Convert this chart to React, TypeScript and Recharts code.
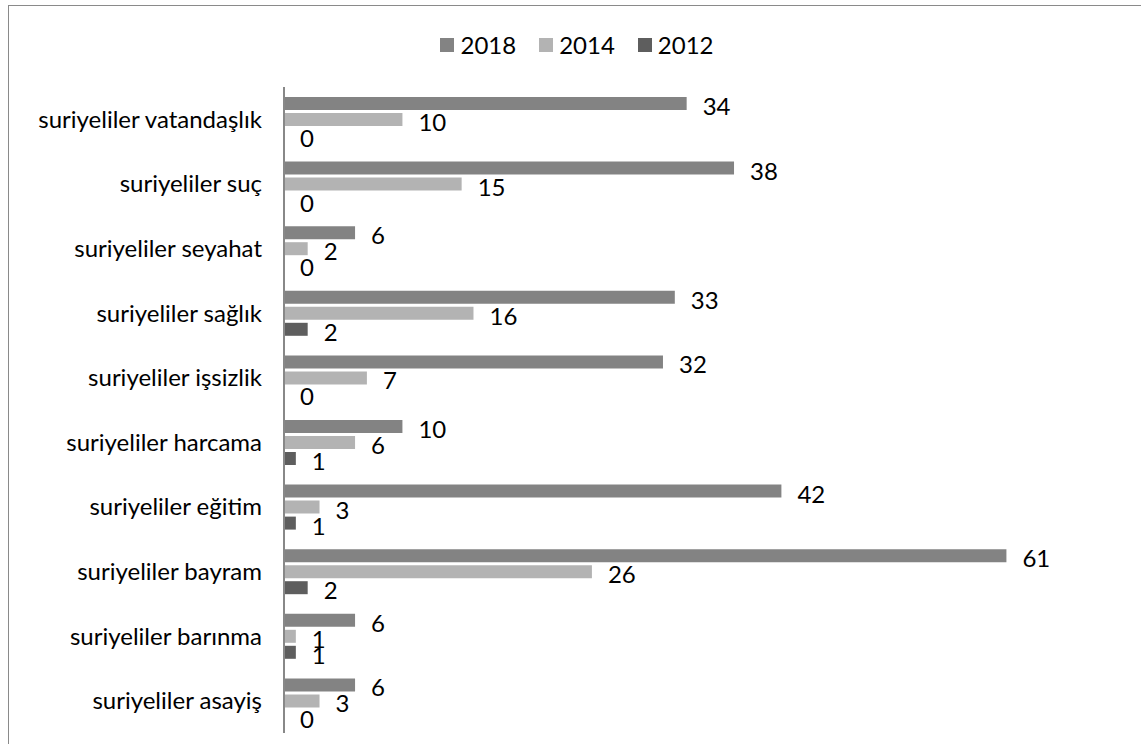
import * as React from 'react'
import { Bar, BarChart, LabelList, Legend, XAxis, YAxis } from 'recharts'

const categories = [
  'suriyeliler vatandaşlık',
  'suriyeliler suç',
  'suriyeliler seyahat',
  'suriyeliler sağlık',
  'suriyeliler işsizlik',
  'suriyeliler harcama',
  'suriyeliler eğitim',
  'suriyeliler bayram',
  'suriyeliler barınma',
  'suriyeliler asayiş',
]
const values2018 = [34, 38, 6, 33, 32, 10, 42, 61, 6, 6]
const values2014 = [10, 15, 2, 16, 7, 6, 3, 26, 1, 3]
const values2012 = [0, 0, 0, 2, 0, 1, 1, 2, 1, 0]
const seriesOrder = ['2018', '2014', '2012']

const data = categories.map((name, i) => ({
  name,
  y2018: values2018[i],
  y2014: values2014[i],
  y2012: values2012[i],
}))

const FONT = 'Lato, sans-serif'
const FS = 24

const LegendRow = (props: any) => {
  const items = [...(props.payload || [])].sort(
    (a: any, b: any) => seriesOrder.indexOf(a.value) - seriesOrder.indexOf(b.value)
  )
  return (
    <div style={{ display: 'flex', justifyContent: 'center', alignItems: 'center', fontFamily: FONT, fontSize: FS, color: '#000' }}>
      {items.map((it: any, i: number) => (
        <div key={i} style={{ display: 'flex', alignItems: 'center', marginLeft: i ? 23 : 0 }}>
          <span style={{ display: 'inline-block', width: 14, height: 14, background: it.color, marginRight: 6 }} />
          <span>{it.value}</span>
        </div>
      ))}
    </div>
  )
}

// draws the value even when the bar has zero length
const ValueLabel = (props: any) => {
  const { x, y, width, height, value } = props
  return (
    <text
      x={Number(x) + Number(width) + 16}
      y={Number(y) + Number(height) / 2 + 2}
      dominantBaseline="central"
      fontFamily={FONT}
      fontSize={FS}
      fill="#000"
    >
      {value}
    </text>
  )
}

export default function App() {
  return (
    <div
      style={{
        position: 'absolute',
        left: 8,
        top: 5,
        width: 1140,
        height: 745,
        border: '1px solid #8a8a8a',
        background: '#fff',
      }}
    >
      <BarChart
        width={1125}
        height={735}
        data={data}
        layout="vertical"
        margin={{ top: 81, right: 21, bottom: 8, left: 0 }}
        barSize={13}
        barGap={3}
      >
        <XAxis type="number" domain={[0, 70]} hide />
        <YAxis
          type="category"
          dataKey="name"
          width={275}
          tickLine={false}
          tickSize={0}
          tickMargin={22}
          axisLine={{ stroke: '#888888', strokeWidth: 2 }}
          tick={{ fontFamily: FONT, fontSize: FS, fill: '#000' }}
          interval={0}
        />
        <Legend
          layout="horizontal"
          verticalAlign="middle"
          align="center"
          content={<LegendRow />}
          wrapperStyle={{ top: 24, left: 16 }}
        />
        <Bar dataKey="y2018" name="2018" fill="#838383" minPointSize={0.01} isAnimationActive={false}>
          <LabelList dataKey="y2018" content={<ValueLabel />} />
        </Bar>
        <Bar dataKey="y2014" name="2014" fill="#b3b3b3" minPointSize={0.01} isAnimationActive={false}>
          <LabelList dataKey="y2014" content={<ValueLabel />} />
        </Bar>
        <Bar dataKey="y2012" name="2012" fill="#5e5e5e" minPointSize={0.01} isAnimationActive={false}>
          <LabelList dataKey="y2012" content={<ValueLabel />} />
        </Bar>
      </BarChart>
    </div>
  )
}
